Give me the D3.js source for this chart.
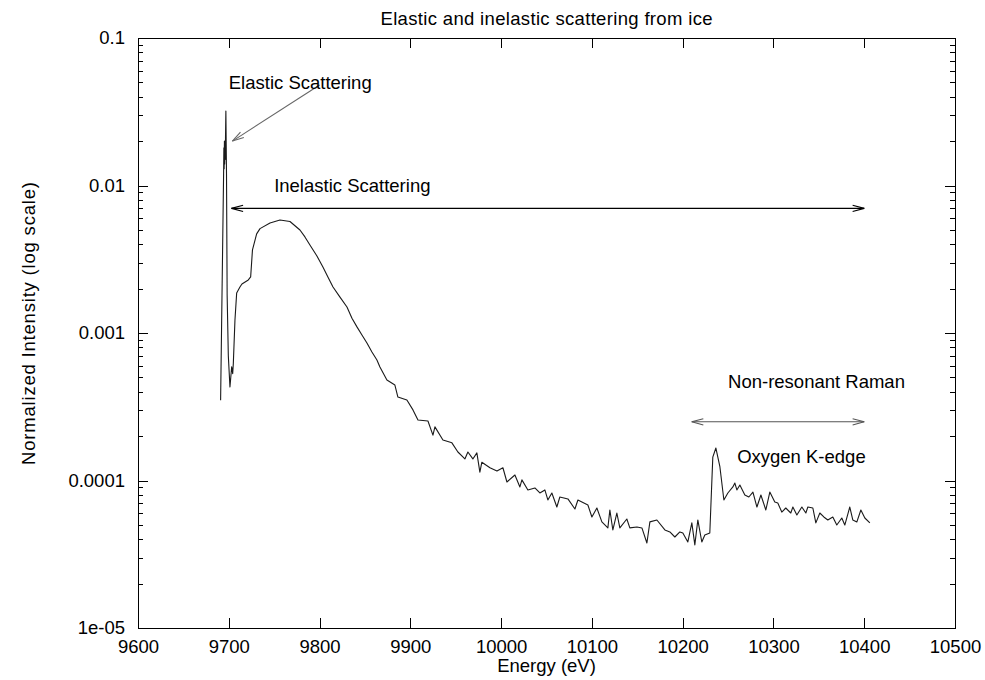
<!DOCTYPE html>
<html>
<head>
<meta charset="utf-8">
<script src="https://cdn.jsdelivr.net/npm/d3@7"></script>
<style>
  body { margin: 0; background: #fff; }
  text { font-family: "Liberation Sans", Arial, Helvetica, sans-serif; fill: #000; }
</style>
</head>
<body>
<div id="chart"></div>
<script>

// energy (eV) and normalized intensity
var energy = [
  9691.0, 9694.3, 9694.6, 9694.9, 9695.2, 9695.5, 9695.8, 9696.1, 9696.4, 9696.8,
  9697.5, 9698.2, 9699.5, 9701.3, 9703.2, 9704.3, 9705.0, 9706.8, 9708.7, 9712.3,
  9714.5, 9721.5, 9724.1, 9726.1, 9730.7, 9734.4, 9745.4, 9756.4, 9767.4, 9778.4,
  9783.9, 9789.4, 9797.1, 9803.7, 9809.2, 9814.8, 9822.5, 9830.2, 9835.7, 9841.2,
  9846.7, 9852.2, 9857.7, 9863.2, 9866.5, 9874.2, 9883.0, 9886.3, 9896.2, 9902.9,
  9908.4, 9919.4, 9924.9, 9927.1, 9935.9, 9945.8, 9952.4, 9960.1, 9963.4, 9968.9,
  9973.3, 9976.6, 9978.8, 9987.7, 9995.4, 10002.0, 10006.4, 10015.2, 10020.7, 10022.9,
  10029.5, 10037.2, 10042.7, 10048.2, 10051.5, 10055.9, 10061.4, 10064.7, 10073.6, 10081.3,
  10084.6, 10095.6, 10100.0, 10105.5, 10111.0, 10117.6, 10119.8, 10123.1, 10127.5, 10130.8,
  10138.5, 10141.8, 10149.6, 10155.1, 10160.6, 10163.9, 10171.6, 10180.4, 10185.9, 10191.4,
  10196.9, 10200.2, 10205.7, 10210.1, 10213.4, 10216.7, 10221.1, 10224.4, 10229.9, 10233.2,
  10236.6, 10241.0, 10245.4, 10249.8, 10255.3, 10257.5, 10259.7, 10263.0, 10268.5, 10272.9,
  10277.4, 10281.8, 10286.2, 10291.6, 10296.0, 10301.5, 10304.8, 10309.2, 10313.6, 10319.1,
  10321.4, 10325.8, 10331.3, 10335.7, 10337.9, 10343.4, 10346.7, 10351.1, 10355.5, 10359.9,
  10365.4, 10369.8, 10375.3, 10378.6, 10384.1, 10387.4, 10391.9, 10396.3, 10400.7, 10406.2
];

var intensity = [
  3.5e-4, 0.012, 0.018, 0.013, 0.020, 0.014, 0.019, 0.015, 0.021, 0.032,
  0.012, 1.8e-3, 7.0e-4, 4.3e-4, 5.9e-4, 5.3e-4, 6.2e-4, 1.22e-3, 1.87e-3, 2.05e-3,
  2.15e-3, 2.29e-3, 2.4e-3, 3.66e-3, 4.7e-3, 5.1e-3, 5.57e-3, 5.83e-3, 5.7e-3, 4.99e-3,
  4.48e-3, 3.95e-3, 3.33e-3, 2.80e-3, 2.40e-3, 2.05e-3, 1.75e-3, 1.50e-3, 1.26e-3, 1.10e-3,
  9.69e-4, 8.56e-4, 7.43e-4, 6.56e-4, 5.88e-4, 4.80e-4, 4.44e-4, 3.68e-4, 3.51e-4, 3.01e-4,
  2.57e-4, 2.53e-4, 2.03e-4, 2.31e-4, 1.88e-4, 1.80e-4, 1.56e-4, 1.40e-4, 1.56e-4, 1.40e-4,
  1.54e-4, 1.14e-4, 1.33e-4, 1.22e-4, 1.16e-4, 1.22e-4, 9.77e-5, 1.09e-4, 9.04e-5, 1.01e-4,
  8.63e-5, 8.90e-5, 8.23e-5, 8.63e-5, 7.38e-5, 8.23e-5, 6.61e-5, 7.73e-5, 7.50e-5, 6.41e-5,
  7.38e-5, 6.82e-5, 5.66e-5, 6.51e-5, 5.24e-5, 4.77e-5, 6.31e-5, 4.62e-5, 6.02e-5, 4.77e-5,
  5.48e-5, 4.77e-5, 4.84e-5, 4.77e-5, 3.77e-5, 5.24e-5, 5.40e-5, 4.62e-5, 4.48e-5, 4.14e-5,
  4.48e-5, 4.41e-5, 3.83e-5, 5.16e-5, 3.66e-5, 5.40e-5, 3.83e-5, 4.27e-5, 4.41e-5, 1.44e-4,
  1.66e-4, 1.24e-4, 7.38e-5, 8.23e-5, 9.04e-5, 9.61e-5, 8.63e-5, 9.31e-5, 7.98e-5, 7.73e-5,
  8.35e-5, 6.61e-5, 7.98e-5, 6.31e-5, 8.35e-5, 7.14e-5, 7.03e-5, 6.11e-5, 6.51e-5, 6.02e-5,
  6.61e-5, 5.84e-5, 6.61e-5, 6.02e-5, 6.61e-5, 6.51e-5, 5.16e-5, 6.02e-5, 5.66e-5, 5.40e-5,
  5.66e-5, 4.99e-5, 5.57e-5, 4.99e-5, 6.61e-5, 5.40e-5, 5.24e-5, 6.31e-5, 5.57e-5, 5.16e-5
];

var xTicks = [9600, 9700, 9800, 9900, 10000, 10100, 10200, 10300, 10400, 10500];
var yTicks = [1e-5, 1e-4, 1e-3, 1e-2, 1e-1];
var yTickLabels = ["1e-05", "0.0001", "0.001", "0.01", "0.1"];

// labels / arrows in data coordinates (like gnuplot "set label", "set arrow")
var labelText = ["Elastic Scattering", "Inelastic Scattering", "Non-resonant Raman", "Oxygen K-edge"];
var labelX = [9700, 9750, 10250, 10260];
var labelY = [0.05, 0.01, 0.00047, 0.000145];

var arrowFrom = [[9800, 0.048], [9703, 0.007], [10210, 0.00025]];
var arrowTo = [[9704, 0.02], [10400, 0.007], [10400, 0.00025]];
var arrowBoth = [false, true, true];
var arrowColor = ["#666", "#000", "#555"];

var W = 985, H = 680;
var margin = {top: 38, right: 30, bottom: 52, left: 138};
var width = W - margin.left - margin.right,
    height = H - margin.top - margin.bottom;

var svg = d3.select("#chart").append("svg")
    .attr("width", W)
    .attr("height", H);

var g = svg.append("g")
    .attr("transform", "translate(" + margin.left + "," + margin.top + ")");

var x = d3.scaleLinear().domain([9600, 10500]).range([0, width]);
var y = d3.scaleLog().domain([1e-5, 0.1]).range([height, 0]);

// minor log ticks 2..9 per decade
var minor = [];
for (var p = -5; p < -1; p++) {
  for (var m = 2; m <= 9; m++) minor.push(m * Math.pow(10, p));
}

var fs = "18.5px";

// bottom axis (ticks point inward)
g.append("g")
    .attr("transform", "translate(0," + height + ")")
    .call(d3.axisBottom(x).tickValues(xTicks).tickSizeInner(-10).tickSizeOuter(0).tickPadding(12)
      .tickFormat(d3.format("d")));
// top mirror
g.append("g")
    .call(d3.axisTop(x).tickValues(xTicks).tickSizeInner(-10).tickSizeOuter(0).tickFormat(""));

// left axis
g.append("g")
    .call(d3.axisLeft(y).tickValues(yTicks).tickSizeInner(-10).tickSizeOuter(0).tickPadding(13)
      .tickFormat(function(d, i) { return yTickLabels[i]; }));
g.append("g")
    .call(d3.axisLeft(y).tickValues(minor).tickSizeInner(-5).tickSizeOuter(0).tickFormat(""));
// right mirror
g.append("g")
    .attr("transform", "translate(" + width + ",0)")
    .call(d3.axisRight(y).tickValues(yTicks).tickSizeInner(-10).tickSizeOuter(0).tickFormat(""));
g.append("g")
    .attr("transform", "translate(" + width + ",0)")
    .call(d3.axisRight(y).tickValues(minor).tickSizeInner(-5).tickSizeOuter(0).tickFormat(""));

g.selectAll(".domain").remove();
g.selectAll(".tick line").attr("stroke", "#000").attr("shape-rendering", "crispEdges");
g.selectAll(".tick text").style("font-size", fs).style("font-family", null).attr("fill", "#000");

// frame
g.append("rect")
    .attr("width", width)
    .attr("height", height)
    .attr("fill", "none")
    .attr("stroke", "#000")
    .attr("shape-rendering", "crispEdges");

// data line
var data = energy.map(function(e, i) { return {e: e, v: intensity[i]}; });
var line = d3.line()
    .x(function(d) { return x(d.e); })
    .y(function(d) { return y(d.v); });

g.append("path")
    .datum(data)
    .attr("fill", "none")
    .attr("stroke", "#1a1a1a")
    .attr("stroke-width", 1.1)
    .attr("stroke-linejoin", "round")
    .attr("d", line);

// arrows
function head(px, py, ang, col) {
  var len = 12, spread = 15 * Math.PI / 180;
  [ang + spread, ang - spread].forEach(function(a) {
    g.append("line")
      .attr("x1", px).attr("y1", py)
      .attr("x2", px - len * Math.cos(a))
      .attr("y2", py - len * Math.sin(a))
      .attr("stroke", col).attr("stroke-width", 1.1);
  });
}

arrowFrom.forEach(function(f, i) {
  var x1 = x(f[0]), y1 = y(f[1]), x2 = x(arrowTo[i][0]), y2 = y(arrowTo[i][1]);
  g.append("line")
    .attr("x1", x1).attr("y1", y1)
    .attr("x2", x2).attr("y2", y2)
    .attr("stroke", arrowColor[i])
    .attr("stroke-width", 1.1);
  var ang = Math.atan2(y2 - y1, x2 - x1);
  head(x2, y2, ang, arrowColor[i]);
  if (arrowBoth[i]) head(x1, y1, ang + Math.PI, arrowColor[i]);
});

// labels
labelText.forEach(function(t, i) {
  g.append("text")
    .attr("x", x(labelX[i]))
    .attr("y", y(labelY[i]))
    .attr("dominant-baseline", "central")
    .style("font-size", fs)
    .text(t);
});

// title and axis titles
svg.append("text")
    .attr("x", margin.left + width / 2)
    .attr("y", 18)
    .attr("text-anchor", "middle")
    .attr("dominant-baseline", "central")
    .attr("textLength", 332)
    .style("font-size", fs)
    .text("Elastic and inelastic scattering from ice");

svg.append("text")
    .attr("x", margin.left + width / 2)
    .attr("y", 665)
    .attr("text-anchor", "middle")
    .attr("dominant-baseline", "central")
    .style("font-size", fs)
    .text("Energy (eV)");

svg.append("text")
    .attr("transform", "translate(28,323.5) rotate(-90)")
    .attr("text-anchor", "middle")
    .attr("dominant-baseline", "central")
    .attr("textLength", 283)
    .style("font-size", fs)
    .text("Normalized Intensity (log scale)");

</script>
</body>
</html>
